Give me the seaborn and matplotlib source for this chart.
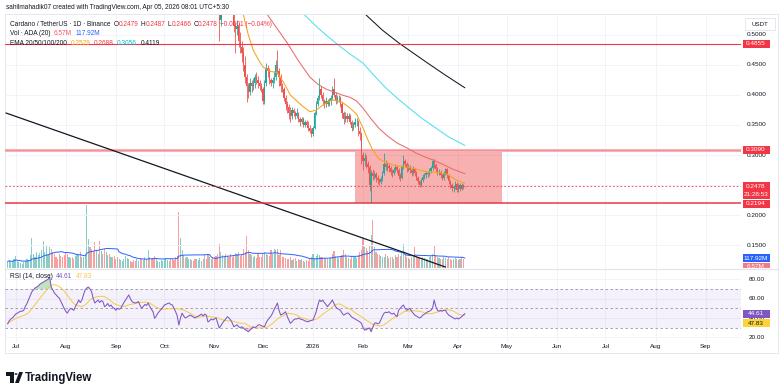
import numpy as np
import pandas as pd
import matplotlib
matplotlib.use("Agg")
import matplotlib.pyplot as plt
from matplotlib.patches import Rectangle, Polygon, Circle
from matplotlib.lines import Line2D
import seaborn as sns


# ----------------------------- data
first_open = 0.610
candle_start = '2025-11-01'
close = [
    # Nov
    0.600, 0.585, 0.545, 0.525, 0.545, 0.555, 0.580, 0.575, 0.590, 0.585,
    0.560, 0.545, 0.515, 0.510, 0.515, 0.490, 0.480, 0.470, 0.450, 0.430,
    0.415, 0.405, 0.420, 0.415, 0.420, 0.430, 0.425, 0.420, 0.415, 0.410,
    # Dec
    0.390, 0.420, 0.445, 0.440, 0.425, 0.420, 0.425, 0.430, 0.450, 0.440,
    0.430, 0.415, 0.410, 0.395, 0.385, 0.380, 0.370, 0.365, 0.375, 0.370,
    0.365, 0.370, 0.360, 0.355, 0.360, 0.350, 0.355, 0.350, 0.345, 0.340, 0.335,
    # Jan
    0.345, 0.370, 0.385, 0.395, 0.410, 0.400, 0.390, 0.385, 0.390, 0.385,
    0.390, 0.395, 0.410, 0.400, 0.390, 0.395, 0.395, 0.385, 0.370, 0.360,
    0.365, 0.360, 0.365, 0.355, 0.345, 0.350, 0.355, 0.355, 0.340, 0.335, 0.300,
    # Feb
    0.290, 0.295, 0.285, 0.280, 0.250, 0.270, 0.265, 0.268, 0.262, 0.258,
    0.255, 0.260, 0.270, 0.285, 0.280, 0.282, 0.278, 0.272, 0.270, 0.275,
    0.280, 0.275, 0.265, 0.262, 0.280, 0.290, 0.285, 0.278,
    # Mar
    0.280, 0.275, 0.270, 0.276, 0.270, 0.262, 0.256, 0.250, 0.258, 0.264,
    0.266, 0.270, 0.268, 0.274, 0.278, 0.290, 0.284, 0.276, 0.270, 0.272,
    0.266, 0.262, 0.270, 0.276, 0.266, 0.256, 0.250, 0.245, 0.246, 0.252, 0.242,
    # Apr
    0.250, 0.244, 0.250, 0.2479, 0.2478,
]
high = [
    0.615, 0.605, 0.590, 0.550, 0.555, 0.565, 0.590, 0.590, 0.600, 0.605,
    0.590, 0.570, 0.560, 0.520, 0.525, 0.520, 0.505, 0.490, 0.480, 0.465,
    0.435, 0.420, 0.428, 0.425, 0.428, 0.435, 0.438, 0.432, 0.425, 0.420,
    0.414, 0.425, 0.453, 0.450, 0.445, 0.428, 0.430, 0.440, 0.458, 0.475,
    0.445, 0.435, 0.420, 0.413, 0.400, 0.390, 0.385, 0.380, 0.380, 0.378,
    0.374, 0.378, 0.372, 0.364, 0.364, 0.364, 0.358, 0.358, 0.356, 0.350, 0.345,
    0.348, 0.374, 0.390, 0.400, 0.428, 0.415, 0.405, 0.393, 0.396, 0.393,
    0.395, 0.400, 0.415, 0.428, 0.405, 0.400, 0.400, 0.398, 0.388, 0.374,
    0.372, 0.370, 0.370, 0.368, 0.358, 0.355, 0.362, 0.362, 0.358, 0.346, 0.338,
    0.305, 0.303, 0.300, 0.290, 0.283, 0.275, 0.277, 0.274, 0.272, 0.266,
    0.262, 0.265, 0.274, 0.303, 0.292, 0.288, 0.286, 0.282, 0.276, 0.280,
    0.285, 0.283, 0.278, 0.270, 0.284, 0.300, 0.294, 0.288,
    0.285, 0.284, 0.279, 0.281, 0.279, 0.273, 0.265, 0.259, 0.262, 0.268,
    0.270, 0.274, 0.274, 0.278, 0.282, 0.294, 0.293, 0.287, 0.280, 0.277,
    0.275, 0.269, 0.274, 0.278, 0.279, 0.269, 0.259, 0.254, 0.250, 0.256, 0.255,
    0.254, 0.253, 0.254, 0.252, 0.2487,
]
low = [
    0.595, 0.580, 0.535, 0.490, 0.515, 0.535, 0.545, 0.565, 0.570, 0.575,
    0.555, 0.540, 0.505, 0.470, 0.500, 0.480, 0.470, 0.455, 0.440, 0.420,
    0.388, 0.395, 0.400, 0.405, 0.408, 0.412, 0.418, 0.412, 0.408, 0.405,
    0.385, 0.385, 0.415, 0.430, 0.418, 0.415, 0.412, 0.420, 0.425, 0.435,
    0.415, 0.405, 0.405, 0.390, 0.375, 0.370, 0.360, 0.355, 0.360, 0.365,
    0.360, 0.362, 0.355, 0.348, 0.352, 0.346, 0.347, 0.346, 0.340, 0.336, 0.330,
    0.332, 0.343, 0.366, 0.382, 0.392, 0.395, 0.383, 0.378, 0.380, 0.381,
    0.382, 0.384, 0.392, 0.396, 0.385, 0.386, 0.388, 0.380, 0.362, 0.352,
    0.355, 0.355, 0.356, 0.351, 0.340, 0.342, 0.346, 0.348, 0.332, 0.325, 0.285,
    0.275, 0.282, 0.278, 0.270, 0.240, 0.2194, 0.258, 0.260, 0.255, 0.252,
    0.250, 0.251, 0.257, 0.267, 0.275, 0.274, 0.272, 0.266, 0.264, 0.266,
    0.272, 0.270, 0.260, 0.256, 0.260, 0.277, 0.280, 0.272,
    0.273, 0.270, 0.265, 0.267, 0.265, 0.258, 0.252, 0.246, 0.248, 0.255,
    0.260, 0.262, 0.264, 0.265, 0.270, 0.275, 0.278, 0.272, 0.266, 0.266,
    0.262, 0.258, 0.259, 0.266, 0.262, 0.252, 0.245, 0.240, 0.238, 0.243, 0.238,
    0.239, 0.240, 0.241, 0.244, 0.2466,
]

# daily volume (millions ADA) and RSI(14), from 2025-06-26
series_start = '2025-06-26'
volume = [
    90, 110, 80, 100, 120, 170, 95, 85, 70, 60,
    80, 100, 130, 110, 180, 420, 200, 160, 230, 180,
    210, 250, 375, 230, 320, 180, 300, 260, 220, 200,
    150, 130, 200, 170, 160, 180, 210, 190, 150, 140,
    160, 130, 170, 200, 180, 220, 160, 150, 180, 880,
    410, 300, 260, 230, 360, 250, 200, 380, 240, 200,
    260, 220, 180, 190, 150, 160, 170, 130, 150, 120,
    110, 100, 130, 170, 140, 120, 100, 90, 110, 95,
    120, 100, 140, 130, 110, 150, 120, 250, 160, 130,
    140, 170, 120, 100, 90, 110, 100, 120, 140, 110,
    100, 120, 130, 110, 150, 170, 780, 420, 250, 180,
    140, 160, 120, 130, 110, 100, 130, 120, 110, 140,
    100, 120, 180, 130, 190, 150, 120, 140, 160, 170,
    190, 340, 220, 180, 160, 200, 170, 150, 190, 160,
    180, 210, 190, 230, 170, 200, 260, 230, 450, 250,
    200, 180, 160, 170, 140, 210, 160, 150, 190, 230,
    200, 180, 170, 250, 200, 260, 250, 270, 180, 250,
    150, 160, 140, 130, 120, 150, 110, 130, 140, 100,
    120, 110, 130, 100, 90, 110, 100, 120, 150, 190,
    140, 170, 200, 180, 150, 160, 130, 140, 120, 130,
    160, 190, 240, 170, 150, 140, 160, 180, 250, 190,
    150, 140, 130, 170, 160, 150, 140, 180, 220, 250,
    420, 300, 280, 240, 310, 460, 670, 300, 220, 200,
    180, 170, 160, 150, 200, 170, 140, 160, 150, 130,
    180, 150, 200, 170, 220, 330, 180, 150, 140, 130,
    160, 180, 290, 170, 140, 150, 130, 160, 140, 120,
    130, 150, 170, 200, 320, 180, 150, 140, 130, 120,
    160, 140, 130, 150, 120, 110, 130, 140, 120, 110,
    130, 150, 120, 6.57,
]
rsi = [
    34, 37, 39, 40, 42, 44, 45, 46, 47, 47,
    48, 52, 55, 59, 63, 67, 69, 71, 72, 73,
    75, 76, 77, 78, 79, 80, 82.7, 72, 69, 65.7,
    64, 62, 60.6, 57, 53.4, 50, 47, 45, 48, 50,
    49, 48, 52, 55, 58.6, 56, 58.6, 64, 69, 71,
    72, 70, 67, 60, 55.5, 57, 58.6, 56, 58, 57,
    51.7, 53, 55, 52, 53.4, 51, 50, 48, 50, 49,
    50, 53, 56, 58.6, 61, 63.8, 60, 57, 56, 55.5,
    56, 57, 53, 50, 52, 54, 53, 55.5, 52, 49,
    46.5, 39.7, 42, 45, 47, 49, 51, 53.4, 54, 55,
    55.5, 54, 53.4, 50, 46.5, 42, 32.7, 40, 45, 42,
    40, 41, 42, 43, 42, 41, 40, 41, 42, 43,
    44, 42, 44, 43, 36, 37, 39, 38, 39, 40,
    35, 29.6, 32, 34.8, 37, 39, 41.3, 40, 38, 35,
    31, 32, 33, 31, 30, 31, 29.6, 28, 27, 25.8,
    27.5, 29, 31, 30, 31, 32.7, 33, 32, 31.5, 31,
    35, 38, 40, 42, 45, 49, 52, 55.5, 48, 43,
    44, 45, 46.5, 42, 38, 34.5, 36, 38, 39, 39,
    40, 39, 38.5, 38, 37, 36.5, 36, 37, 37.5, 38,
    42, 46.5, 53, 58.6, 57, 58.6, 56, 54, 51.7, 54,
    56, 58.6, 55, 51.7, 50, 49, 48, 45, 43, 44,
    45, 45, 43, 41, 40, 39, 38, 37, 36, 34.5,
    30, 27.5, 28, 29, 29.6, 25.8, 30, 34.5, 35, 34,
    34.5, 38, 42, 45, 46, 45.5, 46.5, 45, 44, 45,
    43, 41.3, 48, 50, 52, 53.4, 50, 48, 49, 50,
    47, 45, 43, 42, 41, 40, 41, 43, 44, 45,
    46.5, 47, 48, 50, 58.6, 52, 48, 47, 48, 47,
    48, 48, 45, 43, 42, 41, 40, 39, 40, 39,
    40, 41.3, 43, 44.61,
]

# EMA curves as seen on the chart (date, value)
ema20_dates = ['2025-11-17', '2025-11-19', '2025-11-22', '2025-11-25', '2025-11-28', '2025-12-01',
               '2025-12-05', '2025-12-10', '2025-12-14', '2025-12-18', '2025-12-24', '2025-12-30',
               '2026-01-03', '2026-01-08', '2026-01-13', '2026-01-19', '2026-01-24', '2026-01-28',
               '2026-02-01', '2026-02-04', '2026-02-07', '2026-02-11', '2026-02-15', '2026-02-21',
               '2026-02-28', '2026-03-05', '2026-03-12', '2026-03-20', '2026-03-25', '2026-03-31',
               '2026-04-05']
ema20 = [0.550, 0.533, 0.500, 0.475, 0.460, 0.447, 0.440, 0.437, 0.420, 0.400, 0.385, 0.372,
         0.375, 0.385, 0.392, 0.388, 0.378, 0.368, 0.345, 0.325, 0.308, 0.293, 0.288, 0.282,
         0.280, 0.277, 0.272, 0.271, 0.268, 0.258, 0.2529]
ema50_dates = ['2025-12-01', '2025-12-04', '2025-12-10', '2025-12-16', '2025-12-23', '2025-12-30',
               '2026-01-04', '2026-01-09', '2026-01-14', '2026-01-19', '2026-01-24', '2026-01-28',
               '2026-02-01', '2026-02-06', '2026-02-11', '2026-02-16', '2026-02-22', '2026-02-28',
               '2026-03-06', '2026-03-11', '2026-03-16', '2026-03-22', '2026-03-28', '2026-04-05']
ema50 = [0.545, 0.533, 0.510, 0.487, 0.457, 0.430, 0.418, 0.410, 0.405, 0.400, 0.396, 0.390,
         0.378, 0.360, 0.344, 0.332, 0.320, 0.312, 0.303, 0.297, 0.292, 0.285, 0.277, 0.2688]
ema100_dates = ['2025-12-24', '2025-12-27', '2026-01-04', '2026-01-10', '2026-01-15', '2026-01-22',
                '2026-02-01', '2026-02-08', '2026-02-15', '2026-02-22', '2026-03-03', '2026-03-10',
                '2026-03-18', '2026-03-26', '2026-04-05']
ema100 = [0.545, 0.533, 0.512, 0.498, 0.487, 0.472, 0.453, 0.432, 0.412, 0.395, 0.375, 0.360,
          0.345, 0.330, 0.316]
ema200_dates = ['2026-02-01', '2026-02-03', '2026-02-13', '2026-02-23', '2026-03-04', '2026-03-12',
                '2026-03-24', '2026-04-05']
ema200 = [0.540, 0.533, 0.508, 0.487, 0.470, 0.455, 0.433, 0.412]

# drawings
trend_dates = ['2025-06-25', '2026-03-24']
trend_price = [0.370, 0.1133]
zone_dates = ['2026-01-27', '2026-04-28']
zone_top, zone_bot = 0.3090, 0.2194
level_hi = 0.4855
last_price = 0.2478

tick_dates = ['2025-07-01', '2025-08-01', '2025-09-01', '2025-10-01', '2025-11-01', '2025-12-01',
              '2026-01-01', '2026-02-01', '2026-03-01', '2026-04-01', '2026-05-01', '2026-06-01',
              '2026-07-01', '2026-08-01', '2026-09-01']
tick_labels = ['Jul', 'Aug', 'Sep', 'Oct', 'Nov', 'Dec', '2026', 'Feb', 'Mar', 'Apr', 'May', 'Jun',
               'Jul', 'Aug', 'Sep']
price_ticks = [0.15, 0.20, 0.25, 0.30, 0.35, 0.40, 0.45, 0.50]
rsi_ticks = [20, 40, 60, 80]


# -----------------------------
W, H = 783, 388
UP, DN = '#26a69a', '#ef5350'
DARK = '#131722'
RED = '#f23645'
GRID = '#f0f3fa'

sns.set_theme(style='white')
plt.rcParams['font.family'] = ['Liberation Sans', 'DejaVu Sans']

cdf = pd.DataFrame({'date': pd.date_range(candle_start, periods=len(close), freq='D'),
                    'close': close, 'high': high, 'low': low})
cdf['open'] = cdf['close'].shift(1).fillna(first_open)
cdf['up'] = cdf['close'] >= cdf['open']

sdf = pd.DataFrame({'date': pd.date_range(series_start, periods=len(volume), freq='D'),
                    'volume': volume, 'rsi': rsi})
sdf['vol_ma'] = sdf['volume'].rolling(20, min_periods=1).mean()
sdf['rsi_ma'] = sdf['rsi'].rolling(14, min_periods=1).mean()
sdf['up'] = sdf['rsi'].diff().fillna(0) >= 0
sdf = sdf.set_index('date')
sdf.loc[cdf['date'], 'up'] = cdf['up'].values
sdf = sdf.reset_index()

fig = plt.figure(figsize=(W / 100, H / 100), dpi=100)
fig.patch.set_facecolor('white')


def box(x0, y0, x1, y1):
    return [x0 / W, 1 - y1 / H, (x1 - x0) / W, (y1 - y0) / H]


ax_v = fig.add_axes(box(5, 15, 741, 268))
ax_p = fig.add_axes(box(5, 15, 741, 268), sharex=ax_v)
ax_r = fig.add_axes(box(5, 270, 741, 342), sharex=ax_v)
ax_v.set_zorder(1)
ax_p.set_zorder(2)
ax_r.set_zorder(1)

# grid
for d in pd.to_datetime(tick_dates):
    ax_v.axvline(d, color=GRID, lw=0.7, zorder=0)
    ax_r.axvline(d, color=GRID, lw=0.7, zorder=0)
for v in price_ticks:
    ax_p.axhline(v, color=GRID, lw=0.7, zorder=0)
for v in rsi_ticks:
    ax_r.axhline(v, color=GRID, lw=0.7, zorder=0)

# volume overlay
vcol = np.where(sdf['up'], UP, DN)
ax_v.bar(sdf['date'], sdf['volume'], width=0.7, color=vcol, alpha=0.55, lw=0)
sns.lineplot(x=sdf['date'], y=sdf['vol_ma'], ax=ax_v, color='#2962ff', lw=0.7)

# zone and levels
z0, z1 = pd.to_datetime(zone_dates)
ax_p.add_patch(Rectangle((z0, zone_bot), z1 - z0, zone_top - zone_bot,
                         fc='#ef5350', alpha=0.45, ec='none', zorder=1))
ax_p.axhline(zone_top, color='#f6b0b6', lw=2.2, zorder=1.5)
ax_p.axhline(zone_top, color='#ef5350', lw=0.4, alpha=0.6, zorder=1.6)
ax_p.axhline(zone_bot, color='#e53945', lw=1.1, zorder=5)
ax_p.axhline(level_hi, color=RED, lw=0.8, zorder=5)
ax_p.axhline(last_price, color=RED, lw=0.6, ls=(0, (2, 2.5)), zorder=5)

# candles
ccol = np.where(cdf['up'], UP, DN)
ax_p.vlines(cdf['date'], cdf['low'], cdf['high'], colors=ccol, lw=0.6, zorder=3)
body = (cdf['close'] - cdf['open']).abs().clip(lower=0.0008)
ax_p.bar(cdf['date'], body, bottom=cdf[['open', 'close']].min(axis=1), width=0.8,
         color=ccol, lw=0, zorder=3)

# EMAs and trendline
for dts, vals, col in [(ema20_dates, ema20, '#f7a21b'), (ema50_dates, ema50, '#ea6b6b'),
                       (ema100_dates, ema100, '#4fe0ee'), (ema200_dates, ema200, '#131722')]:
    sns.lineplot(x=pd.to_datetime(dts), y=vals, ax=ax_p, color=col, lw=0.75, zorder=4)
sns.lineplot(x=pd.to_datetime(trend_dates), y=trend_price, ax=ax_p, color='#131722', lw=0.9, zorder=4)

# RSI pane
ax_r.axhspan(30, 70, color='#7e57c2', alpha=0.08, lw=0, zorder=0.5)
for v in (70, 50, 30):
    ax_r.axhline(v, color='#9598a1', lw=0.6, ls=(0, (3, 3)), zorder=1)
r = sdf['rsi'].values
ax_r.fill_between(sdf['date'], 70, r, where=r > 70, interpolate=True, color='#4caf50', alpha=0.35, lw=0)
ax_r.fill_between(sdf['date'], 30, r, where=r < 30, interpolate=True, color='#ef5350', alpha=0.3, lw=0)
sns.lineplot(x=sdf['date'], y=sdf['rsi_ma'], ax=ax_r, color='#f5c84c', lw=0.7, zorder=2)
sns.lineplot(x=sdf['date'], y=sdf['rsi'], ax=ax_r, color='#7e57c2', lw=0.75, zorder=3)

# limits / axes cosmetics
x0 = pd.Timestamp('2026-01-01') - pd.Timedelta(days=190.6)
x1 = pd.Timestamp('2026-01-01') + pd.Timedelta(days=264.9)
ax_v.set_xlim(x0, x1)
ax_p.set_ylim(0.11167, 0.53333)
ax_v.set_ylim(0, 3540)
ax_r.set_ylim(15.2, 89.6)
for a in (ax_v, ax_p, ax_r):
    a.set_facecolor('none')
    for s in a.spines.values():
        s.set_visible(False)
    a.set_xlabel('')
    a.set_ylabel('')
    a.set_yticks([])
    a.tick_params(length=0)
ax_r.set_xticks(pd.to_datetime(tick_dates))
ax_r.set_xticklabels(tick_labels)
ax_r.tick_params(axis='x', labelsize=4.6, labelcolor=DARK, pad=1.5)
ax_v.tick_params(labelbottom=False)
ax_p.tick_params(labelbottom=False)

# frame and pane separator
fig.add_artist(Rectangle((5 / W, 1 - 353 / H), 773 / W, 339 / H, transform=fig.transFigure,
                         fc='none', ec='#e0e3eb', lw=0.6, zorder=0.5))
fig.add_artist(Line2D([5 / W, 778 / W], [1 - 269 / H] * 2, transform=fig.transFigure,
                      color='#e0e3eb', lw=0.8, zorder=5))


# right-hand scale
def ypix(ax, val):
    return H - ax.transData.transform((0, val))[1]


def scale_text(ax, val, txt):
    fig.text(757 / W, 1 - ypix(ax, val) / H, txt, ha='center', va='center',
             fontsize=4.6, color=DARK, zorder=8)


def tag(yc, lines, fc, tc='white', h=8.0):
    top = yc - 4.0
    rect = Rectangle((742.5 / W, 1 - (top + h) / H), 27 / W, h / H, transform=fig.transFigure,
                     fc=fc, ec='none', zorder=9)
    fig.add_artist(rect)
    for k, txt in enumerate(lines):
        fig.text(756 / W, 1 - (yc + 8.3 * k) / H, txt, ha='center', va='center',
                 fontsize=4.6, color=tc, zorder=10)


for v in price_ticks:
    scale_text(ax_p, v, f'{v:.4f}')
for v in rsi_ticks:
    scale_text(ax_r, v, f'{v:.2f}')

tag(ypix(ax_p, level_hi), ['0.4855'], RED)
tag(ypix(ax_p, zone_top), ['0.3090'], RED)
tag(ypix(ax_p, last_price), ['0.2478', '21:28:53'], RED, h=16.6)
tag(ypix(ax_p, zone_bot) + 0.3, ['0.2194'], RED)
tag(ypix(ax_v, sdf['volume'].iloc[-1]) - 1.0, ['6.57M'], '#f27a84', h=5.5)
tag(ypix(ax_v, sdf['vol_ma'].iloc[-1]), ['117.92M'], '#2962ff')
tag(ypix(ax_r, sdf['rsi'].iloc[-1]), ['44.61'], '#7e57c2')
tag(ypix(ax_r, sdf['rsi'].iloc[-1]) + 9.6, ['47.83'], '#fbd43c', tc=DARK)

fig.add_artist(Rectangle((745 / W, 1 - 30 / H), 30 / W, 12 / H, transform=fig.transFigure,
                         fc='white', ec='#e0e3eb', lw=0.6, zorder=9))
fig.text(760 / W, 1 - 24 / H, 'USDT', ha='center', va='center', fontsize=4.4, color=DARK, zorder=10)

# legend lines
rend = fig.canvas.get_renderer()


def runs(x, y, parts, size=4.7):
    for txt, col, gap in parts:
        t = fig.text(x / W, 1 - y / H, txt, color=col, fontsize=size, va='center', ha='left', zorder=12)
        x += t.get_window_extent(rend).width + gap


runs(6.5, 7.3, [('sahilmahadik07 created with TradingView.com, Apr 05, 2026 08:01 UTC+5:30', DARK, 0)])
runs(10, 24, [('Cardano / TetherUS · 1D · Binance', DARK, 3.5),
              ('O', DARK, 0), ('0.2479', RED, 2.2), ('H', DARK, 0), ('0.2487', RED, 2.2),
              ('L', DARK, 0), ('0.2466', RED, 2.2), ('C', DARK, 0), ('0.2478', RED, 2.2),
              ('\u22120.0001 (\u22120.04%)', RED, 0)])
runs(10, 33.3, [('Vol · ADA (20)', DARK, 3.5), ('6.57M', '#f7525f', 3.5), ('117.92M', '#2962ff', 0)])
runs(10, 43.3, [('EMA 20/50/100/200', DARK, 3.5), ('0.2529', '#f7a21b', 3.5), ('0.2688', RED, 3.5),
                ('0.3056', '#00bcd4', 3.5), ('0.4119', DARK, 0)])
runs(10, 276.7, [('RSI (14, close)', DARK, 3.5), ('44.61', '#7e57c2', 3.5), ('47.83', '#f5c84c', 0)])

# footer logo
fig.add_artist(Polygon([(6 / W, 1 - 372 / H), (13.5 / W, 1 - 372 / H), (13.5 / W, 1 - 383 / H),
                        (10 / W, 1 - 383 / H), (10 / W, 1 - 375.5 / H), (6 / W, 1 - 375.5 / H)],
                       closed=True, transform=fig.transFigure, fc=DARK, ec='none'))
fig.add_artist(Circle((16 / W, 1 - 374 / H), 1.6 / W, transform=fig.transFigure, fc=DARK, ec='none'))
fig.add_artist(Polygon([(15 / W, 1 - 383 / H), (18.8 / W, 1 - 383 / H), (23 / W, 1 - 372 / H),
                        (19.2 / W, 1 - 372 / H)], closed=True, transform=fig.transFigure, fc=DARK, ec='none'))
fig.text(25 / W, 1 - 378 / H, 'TradingView', fontsize=8.3, fontweight='semibold', color=DARK,
         va='center', ha='left')

fig.savefig('out.png', dpi=100, facecolor='white')
